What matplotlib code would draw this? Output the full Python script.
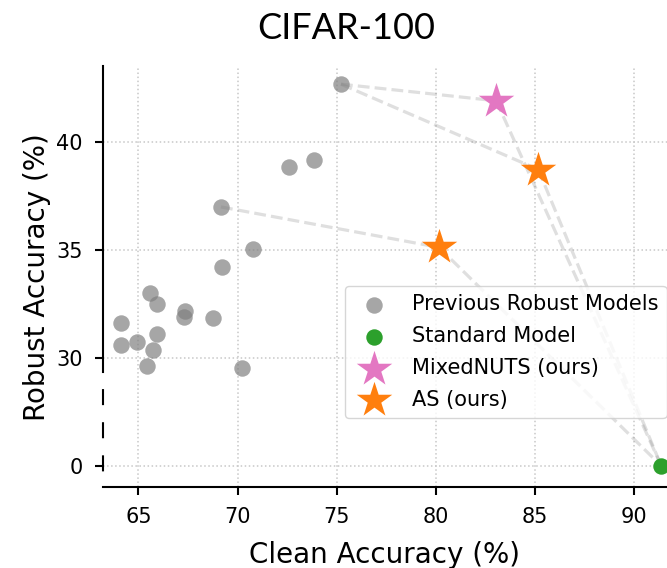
import matplotlib
matplotlib.use('Agg')
import matplotlib.pyplot as plt

# CIFAR-100: clean vs robust accuracy (%)
prev_clean = [75.21, 72.59, 73.85, 69.16, 70.76, 69.21, 65.58, 65.93, 67.34,
              67.31, 68.74, 64.10, 64.10, 64.91, 65.93, 65.71, 65.44, 70.23]
prev_robust = [42.66, 38.81, 39.17, 36.98, 35.05, 34.19, 33.02, 32.50, 32.18,
               31.91, 31.83, 31.63, 30.57, 30.75, 31.11, 30.34, 29.60, 29.52]

std_clean = [91.36]
std_robust = [0.0]

nuts_clean = [83.04]
nuts_robust = [41.89]

as_clean = [85.16, 80.15]
as_robust = [38.71, 35.11]

y_ticks = [0, 30, 35, 40]
x_ticks = [65, 70, 75, 80, 85, 90]


def yb(v):
    # broken y axis: 0 sits just below the 30+ range
    return v + 25 if v < 29 else v


def ys(vals):
    return [yb(v) for v in vals]


fig = plt.figure(figsize=(6.67, 5.68), dpi=100)
ax = fig.add_axes([0.1544, 0.1421, 0.8456, 0.7417])
xmin, xmax = 63.21, 91.65
ymin, ymax = 24.01, 43.5
ax.set_xlim(xmin, xmax)
ax.set_ylim(ymin, ymax)

# dashed connections between base models and the mixed models
pairs = [
    ((prev_clean[0], prev_robust[0]), (nuts_clean[0], nuts_robust[0])),
    ((prev_clean[0], prev_robust[0]), (as_clean[0], as_robust[0])),
    ((prev_clean[3], prev_robust[3]), (as_clean[1], as_robust[1])),
    ((nuts_clean[0], nuts_robust[0]), (std_clean[0], std_robust[0])),
    ((as_clean[0], as_robust[0]), (std_clean[0], std_robust[0])),
    ((as_clean[1], as_robust[1]), (std_clean[0], std_robust[0])),
]
for (x0, y0), (x1, y1) in pairs:
    ax.plot([x0, x1], [yb(y0), yb(y1)], ls='--', color='gray', alpha=0.25,
            lw=2.3, zorder=3)

ax.scatter(prev_clean, ys(prev_robust), s=140, color='gray', alpha=0.7,
           lw=0, zorder=2, label='Previous Robust Models')
ax.scatter(std_clean, ys(std_robust), s=140, color='tab:green', lw=0,
           zorder=4, label='Standard Model')
ax.scatter(nuts_clean, ys(nuts_robust), s=720, marker='*', color='tab:pink',
           lw=0, zorder=4, label='MixedNUTS (ours)')
ax.scatter(as_clean, ys(as_robust), s=720, marker='*', color='tab:orange',
           lw=0, zorder=4, label='AS (ours)')

ax.set_xticks(x_ticks)
ax.set_yticks(ys(y_ticks))
ax.set_yticklabels([str(t) for t in y_ticks])
ax.tick_params(labelsize=15, width=1.5, length=6)
ax.tick_params(axis='y', pad=8.5)
ax.tick_params(axis='x', pad=8)
ax.grid(True, ls=':', color='#c8c8c8', lw=1.1)
ax.set_axisbelow(True)

ax.spines['top'].set_visible(False)
ax.spines['right'].set_visible(False)
ax.spines['left'].set_linewidth(1.5)
ax.spines['bottom'].set_linewidth(1.5)
ax.spines['left'].set_bounds(29.35, ymax)
# dashed stub of the left spine across the break
ax.plot([xmin, xmin], [29.35, ymin], color='black', lw=1.5,
        ls=(7.7, (7.7, 8.2)), clip_on=False, zorder=5, solid_capstyle='butt')

ax.set_xlabel('Clean Accuracy (%)', fontsize=20, labelpad=10)
ax.set_ylabel('Robust Accuracy (%)', fontsize=20, labelpad=4)

fig.text(0.5187, 1 - 39 / 568, 'CIFAR-100', fontsize=26, family='Lato',
         ha='center', va='baseline')

ax.legend(loc='upper left', bbox_to_anchor=(345 / 667, 1 - 286 / 568),
          bbox_transform=fig.transFigure, borderaxespad=0, fontsize=15,
          scatterpoints=1, labelspacing=0.57, framealpha=0.8)

fig.savefig('out.png', dpi=100)
